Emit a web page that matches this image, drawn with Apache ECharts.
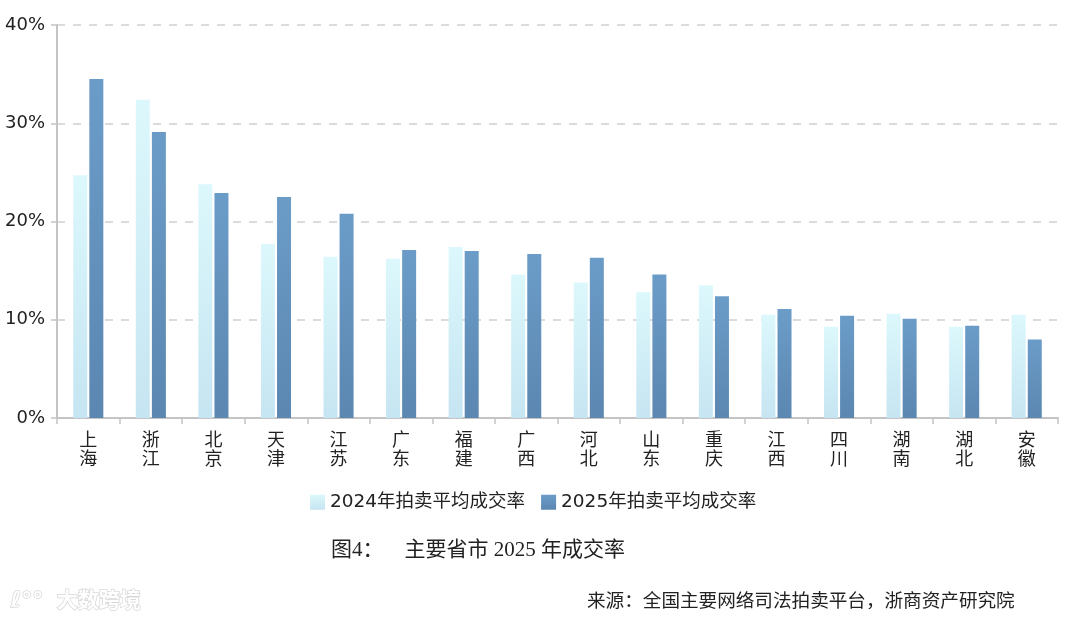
<!DOCTYPE html>
<html>
<head>
<meta charset="utf-8">
<script src="https://cdn.jsdelivr.net/npm/echarts@6/dist/echarts.min.js"></script>
<style>
html,body{margin:0;padding:0;background:#fff;}
#main{width:1080px;height:623px;}
</style>
</head>
<body>
<div id="main"></div>
<script>
const categories = ['上海','浙江','北京','天津','江苏','广东','福建','广西','河北','山东','重庆','江西','四川','湖南','湖北','安徽'];
const rate2024 = [24.7, 32.4, 23.8, 17.7, 16.4, 16.2, 17.4, 14.6, 13.8, 12.8, 13.5, 10.5, 9.3, 10.6, 9.3, 10.5];
const rate2025 = [34.5, 29.1, 22.9, 22.5, 20.8, 17.1, 17.0, 16.7, 16.3, 14.6, 12.4, 11.1, 10.4, 10.1, 9.4, 8.0];
const yTicks = [0, 10, 20, 30, 40];
const seriesNames = ['2024年拍卖平均成交率', '2025年拍卖平均成交率'];
const figTitle = '图4：    主要省市 2025 年成交率';
const sourceText = '来源：全国主要网络司法拍卖平台，浙商资产研究院';
const watermark = '大数跨境';

const chart = echarts.init(document.getElementById('main'));
const sans = "'DejaVu Sans', 'Noto Sans CJK SC', sans-serif";
const serif = "'Liberation Serif', 'DejaVu Serif', 'Noto Sans CJK SC', serif";
const lightGrad = new echarts.graphic.LinearGradient(0,0,0,1,[{offset:0,color:'#dcf8fc'},{offset:1,color:'#c6e5f2'}]);
const darkGrad = new echarts.graphic.LinearGradient(0,0,0,1,[{offset:0,color:'#6b9cc8'},{offset:1,color:'#5b87b1'}]);

chart.setOption({
  animation: false,
  backgroundColor: '#fff',
  grid: {left: 57, right: 22, top: 25, bottom: 205, containLabel: false},
  legend: {
    left: 305, top: 488,
    itemWidth: 15, itemHeight: 15, itemGap: 16,
    icon: 'rect',
    textStyle: {fontSize: 18.5, color: '#222', fontFamily: sans, padding: [0,0,0,0]},
    data: seriesNames
  },
  xAxis: {
    type: 'category',
    data: categories,
    axisLine: {show: true, lineStyle: {color: '#c4c4c4', width: 2}},
    axisTick: {show: true, length: 6, lineStyle: {color: '#c4c4c4', width: 1.5}},
    axisLabel: {
      interval: 0, margin: 14, fontSize: 18, lineHeight: 19, color: '#222', fontFamily: sans,
      formatter: v => v.split('').join('\n')
    }
  },
  yAxis: {
    type: 'value', min: yTicks[0], max: yTicks[yTicks.length-1], interval: 10,
    axisLine: {show: true, lineStyle: {color: '#c4c4c4', width: 2}},
    axisTick: {show: true, length: 6, lineStyle: {color: '#c4c4c4', width: 1.5}},
    axisLabel: {margin: 12, fontSize: 18, color: '#222', fontFamily: sans, formatter: v => v + '%'},
    splitLine: {show: true, lineStyle: {color: '#cfcfcf', width: 1.5, type: [8, 8]}}
  },
  series: [
    {name: seriesNames[0], type: 'bar', data: rate2024, barWidth: 14, barGap: '15%', itemStyle: {color: lightGrad}},
    {name: seriesNames[1], type: 'bar', data: rate2025, barWidth: 14, barGap: '15%', itemStyle: {color: darkGrad}}
  ],
  graphic: [
    {type: 'text', left: 331, top: 540, style: {text: figTitle, fill: '#222', font: '21px ' + serif}},
    {type: 'text', left: 587, top: 593, style: {text: sourceText, fill: '#222', font: '18.6px ' + serif}},
    {type: 'text', left: 10, top: 590, style: {text: 'ℓ°°', fill: '#fff', stroke: '#d8d8d8', lineWidth: 1.5, font: 'bold 22px ' + sans}},
    {type: 'text', left: 56, top: 590, style: {text: watermark, fill: '#fff', stroke: '#d8d8d8', lineWidth: 1.5, font: 'bold 21px ' + sans}}
  ]
});
</script>
</body>
</html>
